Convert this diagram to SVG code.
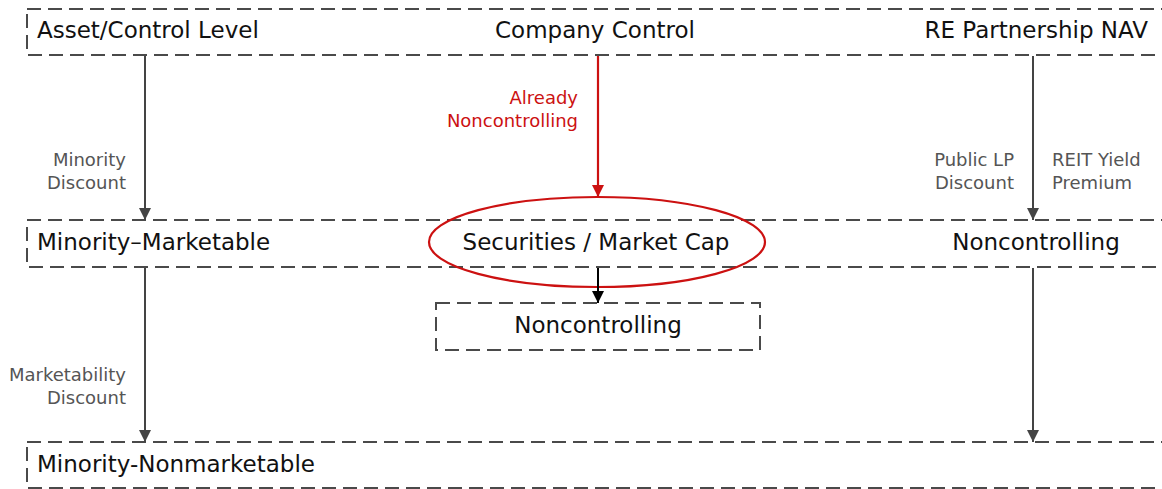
<svg xmlns="http://www.w3.org/2000/svg" width="1162" height="489" viewBox="0 0 1162 489">
  <defs>
    <style>
      .band { fill: none; stroke: #4a4a4a; stroke-width: 2; stroke-dasharray: 14 7; }
      .lbl { font-family: "DejaVu Sans", "Liberation Sans", Arial, sans-serif; font-size: 23px; fill: #111; }
      .edge { font-family: "DejaVu Sans", "Liberation Sans", Arial, sans-serif; font-size: 18px; fill: #555; }
      .red { fill: #cc1111; }
      .conn { stroke: #444; stroke-width: 2; fill: none; }
    </style>
    <marker id="ahBig" viewBox="0 0 10 10" refX="10" refY="5" markerWidth="12" markerHeight="12" markerUnits="userSpaceOnUse" orient="auto">
      <path d="M0,0 L10,5 L0,10 z" fill="#444"/>
    </marker>
    <marker id="ahRed" viewBox="0 0 10 10" refX="10" refY="5" markerWidth="12" markerHeight="12" markerUnits="userSpaceOnUse" orient="auto">
      <path d="M0,0 L10,5 L0,10 z" fill="#cc1111"/>
    </marker>
    <marker id="ahBlack" viewBox="0 0 10 10" refX="10" refY="5" markerWidth="12" markerHeight="12" markerUnits="userSpaceOnUse" orient="auto">
      <path d="M0,0 L10,5 L0,10 z" fill="#000"/>
    </marker>
  </defs>

  <!-- top band: control-level values -->
  <g id="band-top">
    <rect class="band" x="27" y="9" width="1150" height="46"/>
    <text class="lbl" x="37" y="38">Asset/Control Level</text>
    <text class="lbl" x="595" y="38" text-anchor="middle">Company Control</text>
    <text class="lbl" x="1148" y="38" text-anchor="end">RE Partnership NAV</text>
  </g>

  <!-- middle band: marketable minority values -->
  <g id="band-mid">
    <rect class="band" x="27" y="220" width="1150" height="47"/>
    <text class="lbl" x="37" y="250">Minority–Marketable</text>
    <text class="lbl" x="1036" y="250" text-anchor="middle">Noncontrolling</text>
  </g>

  <!-- bottom band -->
  <g id="band-bottom">
    <rect class="band" x="27" y="442" width="1150" height="46"/>
    <text class="lbl" x="37" y="472">Minority-Nonmarketable</text>
  </g>

  <!-- highlighted securities node -->
  <g id="securities">
    <ellipse cx="597" cy="242" rx="168" ry="45" fill="none" stroke="#cc1111" stroke-width="2.2"/>
    <text class="lbl" x="596" y="250" text-anchor="middle">Securities / Market Cap</text>
  </g>

  <!-- noncontrolling result box -->
  <g id="noncontrolling-box">
    <rect class="band" x="436" y="303" width="324" height="47"/>
    <text class="lbl" x="598" y="333" text-anchor="middle">Noncontrolling</text>
  </g>

  <!-- connectors -->
  <g id="connectors">
    <line class="conn" x1="145" y1="56" x2="145" y2="220" marker-end="url(#ahBig)"/>
    <line class="conn" x1="145" y1="268" x2="145" y2="442" marker-end="url(#ahBig)"/>
    <line class="conn" x1="1033" y1="56" x2="1033" y2="220" marker-end="url(#ahBig)"/>
    <line class="conn" x1="1033" y1="268" x2="1033" y2="442" marker-end="url(#ahBig)"/>
    <line x1="598" y1="56" x2="598" y2="197" stroke="#cc1111" stroke-width="2.2" marker-end="url(#ahRed)"/>
    <line x1="598" y1="268" x2="598" y2="303" stroke="#000" stroke-width="2" marker-end="url(#ahBlack)"/>

    <text class="edge" text-anchor="end"><tspan x="126" y="166">Minority</tspan><tspan x="126" y="189">Discount</tspan></text>
    <text class="edge" text-anchor="end"><tspan x="126" y="381">Marketability</tspan><tspan x="126" y="404">Discount</tspan></text>
    <text class="edge red" text-anchor="end"><tspan x="578" y="104">Already</tspan><tspan x="578" y="127">Noncontrolling</tspan></text>
    <text class="edge" text-anchor="end"><tspan x="1014" y="166">Public LP</tspan><tspan x="1014" y="189">Discount</tspan></text>
    <text class="edge"><tspan x="1052" y="166">REIT Yield</tspan><tspan x="1052" y="189">Premium</tspan></text>
  </g>
</svg>
